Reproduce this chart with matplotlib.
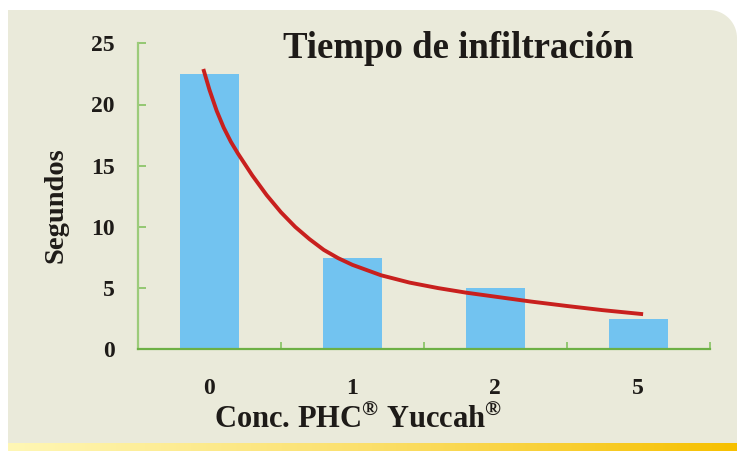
import numpy as np
import matplotlib
matplotlib.use("Agg")
import matplotlib.pyplot as plt
from matplotlib.path import Path
from matplotlib.patches import PathPatch

# data
categorias = ["0", "1", "2", "5"]
segundos = [22.5, 7.5, 5.0, 2.5]

# trend curve (x = category position, y = seconds)
curva_x = [-0.043, 0.0, 0.05, 0.1, 0.15, 0.2, 0.3, 0.4, 0.5, 0.6, 0.7, 0.8,
           0.9, 1.0, 1.2, 1.4, 1.6, 1.8, 2.0, 2.25, 2.5, 2.75, 3.034]
curva_y = [22.9, 21.2, 19.5, 18.1, 16.95, 15.98, 14.2, 12.6, 11.2, 10.0,
           9.0, 8.12, 7.45, 6.9, 6.05, 5.45, 5.0, 4.62, 4.3, 3.9, 3.54,
           3.2, 2.87]

serif = "Liberation Serif"
plt.rcParams["mathtext.fontset"] = "custom"
plt.rcParams["mathtext.rm"] = serif + ":bold"
plt.rcParams["mathtext.bf"] = serif + ":bold"

W, H = 737, 451
fig = plt.figure(figsize=(W / 100, H / 100), dpi=100)
fig.patch.set_facecolor("white")

# beige panel with rounded top-right corner (pixel coords -> figure fraction)
x0, x1, ytop, ybot, r = 8, 737, 10, 443, 28
ang = np.linspace(np.pi / 2, 0, 20)
pts = [(x0, ybot), (x0, ytop), (x1 - r, ytop)]
pts += [(x1 - r + r * np.cos(a), ytop + r - r * np.sin(a)) for a in ang]
pts += [(x1, ybot), (x0, ybot)]
pts = [(px / W, 1 - py / H) for px, py in pts]
panel = PathPatch(Path(pts), facecolor="#EAEADA", edgecolor="none",
                  transform=fig.transFigure, zorder=-5)
fig.patches.append(panel)

# yellow gradient band at the bottom
band = fig.add_axes([x0 / W, 0, 1 - x0 / W, (H - ybot) / H])
grad = np.linspace(0, 1, 256).reshape(1, -1)
cmap = matplotlib.colors.LinearSegmentedColormap.from_list(
    "band", ["#FFF7B5", "#FBDF6A", "#F6C000"])
band.imshow(grad, aspect="auto", cmap=cmap, extent=[0, 1, 0, 1])
band.axis("off")

ax = fig.add_axes([138 / W, 1 - 349.3 / H, (709.7 - 138) / W, (349.3 - 43.3) / H])
ax.set_facecolor("none")
ax.set_zorder(2)

xpos = np.arange(len(categorias))
ax.bar(xpos, segundos, width=0.41, color="#72C3F0", zorder=2)
ax.plot(curva_x, curva_y, color="#C8201E", lw=2.8, zorder=3,
        solid_capstyle="butt", solid_joinstyle="round")

ax.set_xlim(-0.5, 3.5)
ax.set_ylim(0, 25)
ax.set_yticks([0, 5, 10, 15, 20, 25])
ax.set_xticks(xpos)
ax.set_xticklabels(categorias)
ax.set_xticks(np.arange(0.5, 4, 1), minor=True)

for sp in ["top", "right"]:
    ax.spines[sp].set_visible(False)
ax.spines["left"].set_color("#9CCB7A")
ax.spines["left"].set_linewidth(1.6)
ax.spines["bottom"].set_color("#6DB045")
ax.spines["bottom"].set_linewidth(1.6)

ax.tick_params(axis="y", direction="in", length=6, width=1.3, color="#8CC56A",
               pad=17)
ax.tick_params(axis="x", which="major", length=0, pad=21)
ax.tick_params(axis="x", which="minor", direction="in", length=5, width=1.3,
               color="#8CC56A")
for lab in ax.get_xticklabels() + ax.get_yticklabels():
    lab.set_fontfamily(serif)
    lab.set_fontweight("bold")
    lab.set_fontsize(17)
    lab.set_color("#1E1B18")

ax.set_ylabel("Segundos", fontfamily=serif, fontweight="bold", fontsize=20.5,
              color="#1E1B18")
ax.yaxis.set_label_coords(-0.121, 0.472)
fig.text(358 / W, 1 - 419 / H, r"Conc. PHC$^{\mathrm{®}}$ Yuccah$^{\mathrm{®}}$",
         ha="center", va="center", fontfamily=serif, fontweight="bold",
         fontsize=22, color="#1E1B18")
fig.text(458.5 / W, 1 - 49 / H, "Tiempo de infiltración", ha="center",
         va="center", fontfamily=serif, fontweight="bold", fontsize=26.5,
         color="#1E1B18")

fig.savefig("out.png", dpi=100)
